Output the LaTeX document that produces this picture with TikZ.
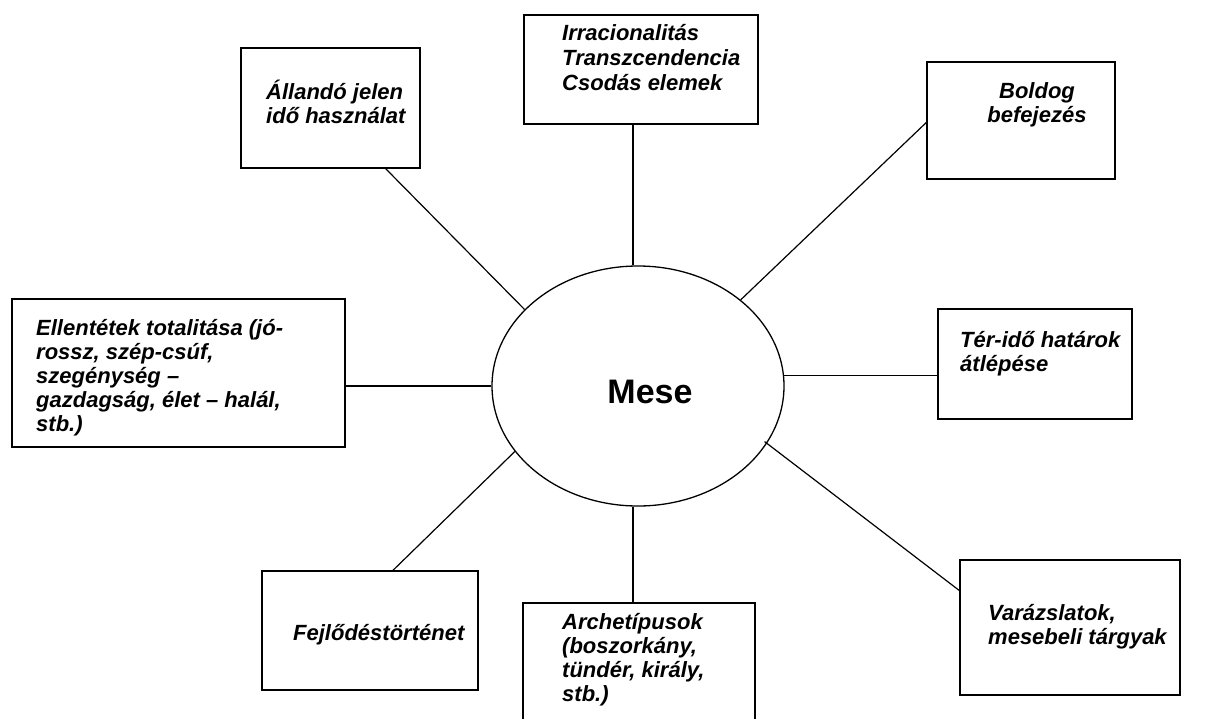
\documentclass[tikz,border=0pt]{standalone}
\usepackage{fontspec}
\setmainfont{Liberation Sans}
\usetikzlibrary{shapes.geometric}

\begin{document}
\begin{tikzpicture}[
  x=1pt, y=-1pt,
  font=\fontsize{22}{24}\selectfont\bfseries\itshape,
  box/.style={draw, line width=1.4pt, inner sep=0pt},
  txt/.style={align=left, inner sep=0pt, anchor=west},
  link/.style={line width=1.2pt}
]
\useasboundingbox (0,0) rectangle (1210,718);

% centre
\node[draw, ellipse, line width=1.3pt, minimum width=292pt, minimum height=240pt] (mese) at (638,386) {};
\node[font=\fontsize{34}{40}\selectfont\bfseries] (mesetext) at ([xshift=12pt,yshift=-6pt]mese.center) {Mese};

% boxes
\node[box, minimum width=179pt, minimum height=120pt] (allando) at (330.5,108) {};
\node[box, minimum width=234pt, minimum height=109pt] (irrac) at (641,69.5) {};
\node[box, minimum width=188pt, minimum height=117pt] (boldog) at (1021,120.5) {};
\node[box, minimum width=194pt, minimum height=110pt] (ter) at (1035,364) {};
\node[box, minimum width=333pt, minimum height=148pt] (ellen) at (178.5,373) {};
\node[box, minimum width=216pt, minimum height=119pt] (fejl) at (370,630.5) {};
\node[box, minimum width=232pt, minimum height=122pt] (archet) at (639,664) {};
\node[box, minimum width=220pt, minimum height=135pt] (varazs) at (1070,627.5) {};

% texts
\node[txt] (allandotext) at (266,102) {Állandó jelen\\idő használat};
\node[txt, font=\fontsize{22}{25}\selectfont\bfseries\itshape] (irractext) at (562,58) {Irracionalitás\\Transzcendencia\\Csodás elemek};
\node[align=center, inner sep=0pt] (boldogtext) at (1037,105) {Boldog\\befejezés};
\node[txt] (tertext) at (960,354) {Tér-idő határok\\átlépése};
\node[txt] (ellentext) at (36,378) {Ellentétek totalitása (jó-\\rossz, szép-csúf,\\szegénység –\\gazdagság, élet – halál,\\stb.)};
\node[txt] (fejltext) at (293,635) {Fejlődéstörténet};
\node[txt] (archettext) at (562,660) {Archetípusok\\(boszorkány,\\tündér, király,\\stb.)};
\node[txt] (varazstext) at (988,627) {Varázslatok,\\mesebeli tárgyak};

% spokes
\draw[link] (mese.146) -- ([xshift=-35pt]allando.south east);
\draw[link] ([xshift=-8pt]irrac.south) -- ([xshift=-8pt]irrac.south |- mese.north);
\draw[link] (mese.40) -- ([yshift=-2pt]boldog.west);
\draw[link] (mese.west) -- (mese.west -| ellen.east);
\draw[link] (mese.4) -- (mese.4 -| ter.west);
\draw[link] (mese.208) -- ([xshift=23pt]fejl.north);
\draw[link] ([xshift=-6pt]archet.north) -- ([xshift=-6pt]archet.north |- mese.south);
\draw[link, shorten <=-3pt] (mese.336) -- ([yshift=37pt]varazs.west);

\end{tikzpicture}
\end{document}
